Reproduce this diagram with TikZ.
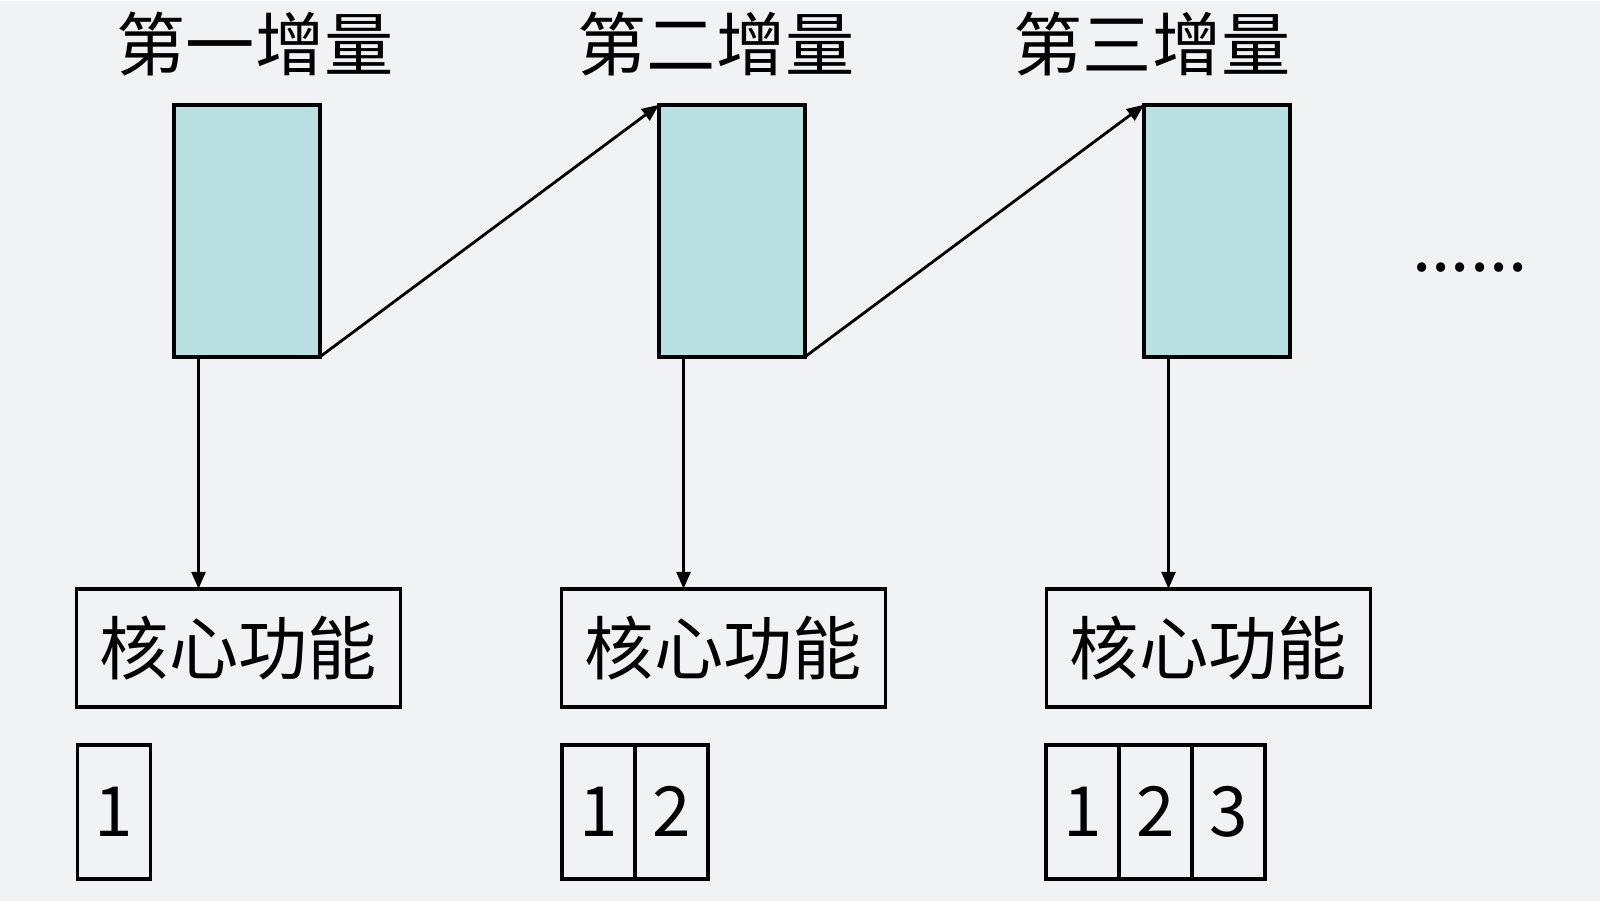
\documentclass[tikz,border=0pt]{standalone}
\usepackage{fontspec}
\setmainfont{Noto Sans CJK SC}
\usepackage{tkz-graph}
\usetikzlibrary{arrows.meta}
\definecolor{bgcol}{RGB}{240,242,244}
\definecolor{incfill}{RGB}{185,225,226}

\begin{document}
\begin{tikzpicture}
    \GraphInit[vstyle=Normal]
    \tikzset{every node/.style = {font=\fontsize{19.7}{23}\selectfont}}
    \tikzset{EdgeStyle/.style = {draw, line width=0.8pt, -{Triangle[length=1.7mm,width=1.4mm]}}}
    \fill[bgcol] (0,0) rectangle (16,-9);
    \node (t1) at (2.55,-0.43) {第一增量};
    \node (t2) at (7.16,-0.43) {第二增量};
    \node (t3) at (11.52,-0.43) {第三增量};
    \tikzset{VertexStyle/.style = {draw, rectangle, inner sep=0pt, line width=1pt,
        fill=incfill, minimum width=1.46cm, minimum height=2.52cm}}
    \SetGraphUnit{4.85}
    \Vertex[x=2.47,y=-2.30,NoLabel]{inc1}
    \EA[NoLabel](inc1){inc2}
    \EA[NoLabel](inc2){inc3}
    \node[anchor=base] (more) at (14.70,-2.71) {......};
    \tikzset{VertexStyle/.style = {draw, rectangle, inner sep=0pt, line width=1pt,
        font=\fontsize{19.7}{23}\selectfont, minimum width=3.24cm, minimum height=1.18cm}}
    \Vertex[x=2.383,y=-6.47,L=核心功能]{core1}
    \EA[L=核心功能](core1){core2}
    \EA[L=核心功能](core2){core3}
    \tikzset{VertexStyle/.style = {draw, rectangle, inner sep=0pt, line width=1pt,
        font=\fontsize{19.7}{23}\selectfont, minimum width=0.73cm, minimum height=1.34cm}}
    \SetGraphUnit{0.73}
    \Vertex[x=1.141,y=-8.11,L=1]{n11}
    \Vertex[x=5.987,y=-8.11,L=1]{n21}
    \EA[L=2](n21){n22}
    \Vertex[x=10.825,y=-8.11,L=1]{n31}
    \EA[L=2](n31){n32}
    \EA[L=3](n32){n33}
    % arrows
    \draw[EdgeStyle] (inc1.south east) -- (inc2.north west);
    \draw[EdgeStyle] (inc2.south east) -- (inc3.north west);
    \coordinate (d1) at ([xshift=0.245cm]inc1.south west);
    \coordinate (d2) at ([xshift=0.245cm]inc2.south west);
    \coordinate (d3) at ([xshift=0.245cm]inc3.south west);
    \draw[EdgeStyle] (d1) -- (d1 |- core1.north);
    \draw[EdgeStyle] (d2) -- (d2 |- core2.north);
    \draw[EdgeStyle] (d3) -- (d3 |- core3.north);
\end{tikzpicture}
\end{document}
